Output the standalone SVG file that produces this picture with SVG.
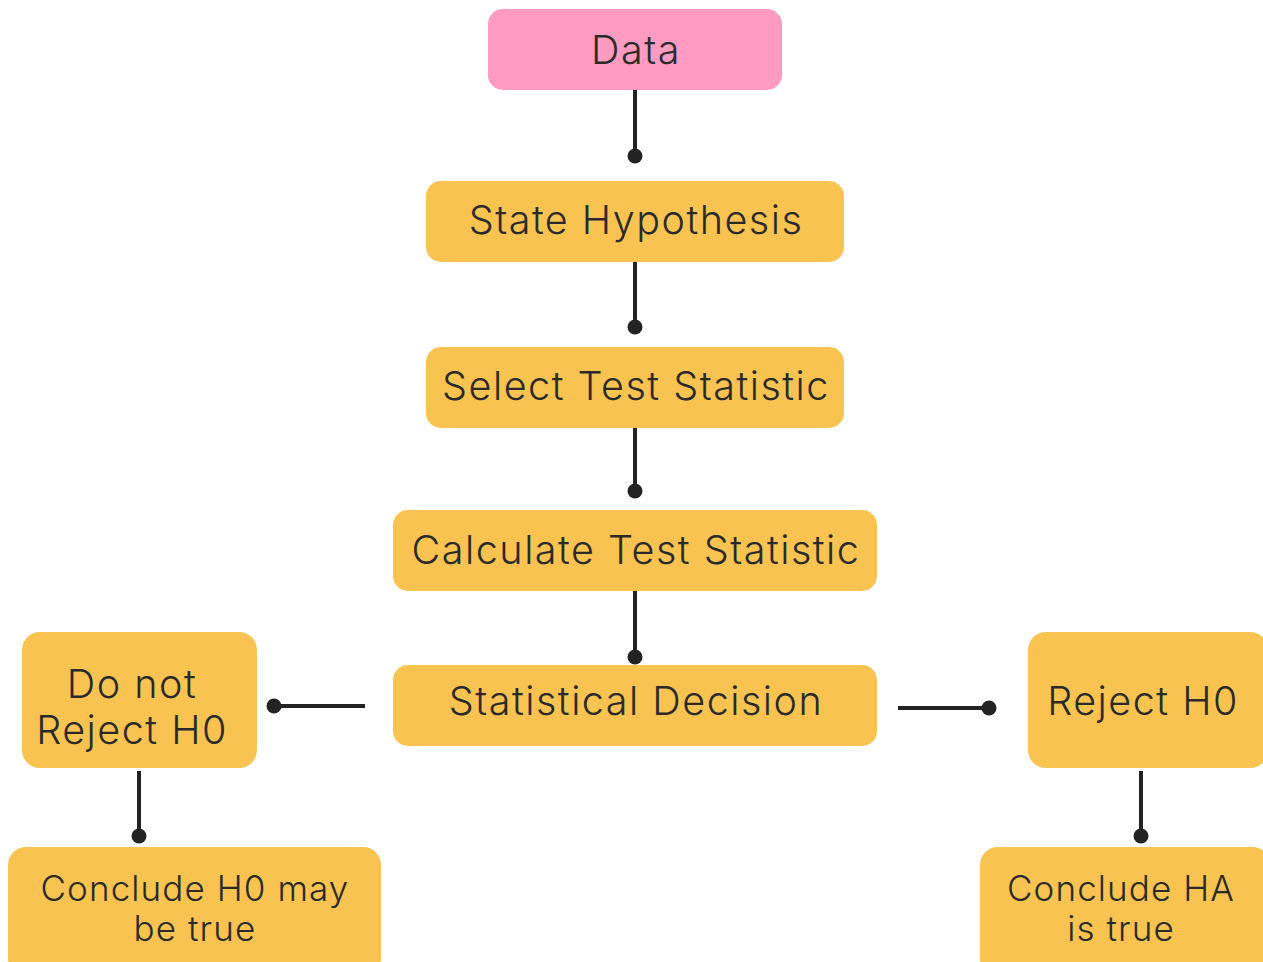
<svg xmlns="http://www.w3.org/2000/svg" width="1263" height="962" viewBox="0 0 1263 962">
<style>
.box{fill:#F8C350;}
.pink{fill:#FF9BC1;}
.t{font-family:Inter,"Liberation Sans",sans-serif;font-size:39.5px;font-weight:300;letter-spacing:1.5px;fill:#2a2a2a;text-anchor:middle;}
.s{font-size:35px;letter-spacing:1.1px;}
.c line{stroke:#232323;stroke-width:4;}
.c circle{fill:#232323;}
</style>
<rect width="1263" height="962" fill="#ffffff"/>
<g class="c" id="connectors">
<line x1="635" y1="90" x2="635" y2="156"/><circle cx="635" cy="156" r="7.5"/>
<line x1="635" y1="262" x2="635" y2="327"/><circle cx="635" cy="327" r="7.5"/>
<line x1="635" y1="428" x2="635" y2="491"/><circle cx="635" cy="491" r="7.5"/>
<line x1="635" y1="591" x2="635" y2="657"/><circle cx="635" cy="657" r="7.5"/>
<line x1="274" y1="706" x2="365" y2="706"/><circle cx="274" cy="706" r="7.5"/>
<line x1="898" y1="708" x2="989" y2="708"/><circle cx="989" cy="708" r="7.5"/>
<line x1="139" y1="771" x2="139" y2="836"/><circle cx="139" cy="836" r="7.5"/>
<line x1="1141" y1="771" x2="1141" y2="836"/><circle cx="1141" cy="836" r="7.5"/>
</g>
<g id="data"><rect class="pink" x="488" y="9" width="294" height="81" rx="15"/><text class="t" x="636" y="64">Data</text></g>
<g id="state"><rect class="box" x="426" y="181" width="418" height="81" rx="15"/><text class="t" x="636" y="234">State Hypothesis</text></g>
<g id="select"><rect class="box" x="426" y="347" width="418" height="81" rx="15"/><text class="t" x="636" y="400">Select Test Statistic</text></g>
<g id="calculate"><rect class="box" x="393" y="510" width="484" height="81" rx="15"/><text class="t" x="636" y="564">Calculate Test Statistic</text></g>
<g id="decision"><rect class="box" x="393" y="665" width="484" height="81" rx="15"/><text class="t" x="636" y="715">Statistical Decision</text></g>
<g id="notreject"><rect class="box" x="22" y="632" width="235" height="136" rx="18"/><text class="t" x="132" y="698">Do not</text><text class="t" x="132" y="744">Reject H0</text></g>
<g id="reject"><rect class="box" x="1028" y="632" width="240" height="136" rx="18"/><text class="t" x="1143" y="715">Reject H0</text></g>
<g id="concludeH0"><rect class="box" x="8" y="847" width="373" height="130" rx="18"/><text class="t s" x="195" y="901">Conclude H0 may</text><text class="t s" x="195" y="941">be true</text></g>
<g id="concludeHA"><rect class="box" x="980" y="847" width="290" height="130" rx="18"/><text class="t s" x="1121" y="901">Conclude HA</text><text class="t s" x="1121" y="941">is true</text></g>
</svg>
